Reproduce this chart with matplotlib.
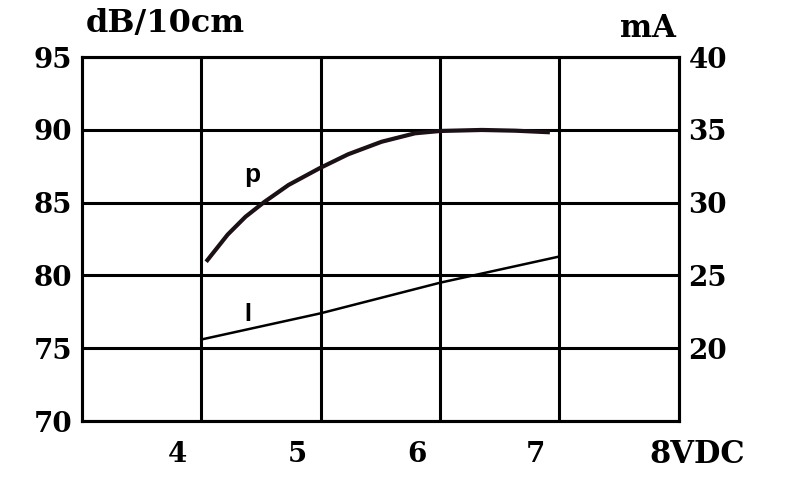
import numpy as np
import matplotlib.pyplot as plt

# supply voltage (VDC) vs sound pressure (dB/10cm)
p_volts = [4.04, 4.22, 4.37, 4.53, 4.73, 4.99, 5.23, 5.51, 5.79, 6.0, 6.35, 6.63, 6.92]
p_db = [80.94, 82.8, 84.03, 85.06, 86.21, 87.36, 88.32, 89.18, 89.76, 89.92, 89.99, 89.94, 89.83]

# supply voltage (VDC) vs current (mA)
i_volts = [4.0, 5.0, 6.0, 7.0]
i_ma = [20.6, 22.4, 24.5, 26.3]

db_ticks = [70, 75, 80, 85, 90, 95]
ma_ticks = [20, 25, 30, 35, 40]
v_ticks = [4, 5, 6, 7, 8]
v_labels = ['4', '5', '6', '7', '8VDC']

plt.rcParams['font.family'] = ['DejaVu Serif']
plt.rcParams['font.weight'] = 'bold'
FS = 20

fig = plt.figure(figsize=(8, 4.79), dpi=100)
ax = fig.add_axes([0.1025, 0.121, 0.746, 0.760])
ax.set_xlim(3, 8)
ax.set_ylim(70, 95)

ax2 = ax.twinx()
ax2.set_ylim(15, 40)   # mA = dB - 55

for s in list(ax.spines.values()) + list(ax2.spines.values()):
    s.set_linewidth(2.2)

ax.set_xticks(v_ticks[:-1])
ax.set_yticks(db_ticks)
ax.grid(True, color='black', linewidth=2.2)
ax.tick_params(length=0, labelbottom=False, pad=7, labelsize=FS)
ax2.set_yticks(ma_ticks)
ax2.tick_params(length=0, pad=7, labelsize=FS)
for lab in ax.get_yticklabels() + ax2.get_yticklabels():
    lab.set_fontweight('bold')

# x labels sit just left of their grid line
for v, lab in zip(v_ticks, v_labels):
    if lab == v_labels[-1]:
        ax.annotate(lab, (v, 70), xytext=(-21, -24), textcoords='offset points',
                    ha='left', va='center', fontsize=FS + 2, fontweight='bold',
                    annotation_clip=False)
    else:
        ax.annotate(lab, (v, 70), xytext=(-17, -24), textcoords='offset points',
                    ha='center', va='center', fontsize=FS, fontweight='bold',
                    annotation_clip=False)

ax.plot(p_volts, p_db, color='#1a1016', linewidth=3.0, solid_capstyle='butt')
ax2.plot(i_volts, i_ma, color='black', linewidth=1.8)

ax.text(4.43, 86.9, 'p', family='Liberation Sans', fontsize=19, fontweight='bold',
        ha='center', va='center')
ax.text(4.39, 77.35, 'I', family='Liberation Sans', fontsize=18, fontweight='bold',
        ha='center', va='center')

ax.text(0.007, 1.05, 'dB/10cm', transform=ax.transAxes, fontsize=FS + 3,
        fontweight='bold', ha='left', va='bottom')
ax.text(0.995, 1.035, 'mA', transform=ax.transAxes, fontsize=FS + 2,
        fontweight='bold', ha='right', va='bottom')

fig.savefig('out.png', dpi=100, facecolor='white')
